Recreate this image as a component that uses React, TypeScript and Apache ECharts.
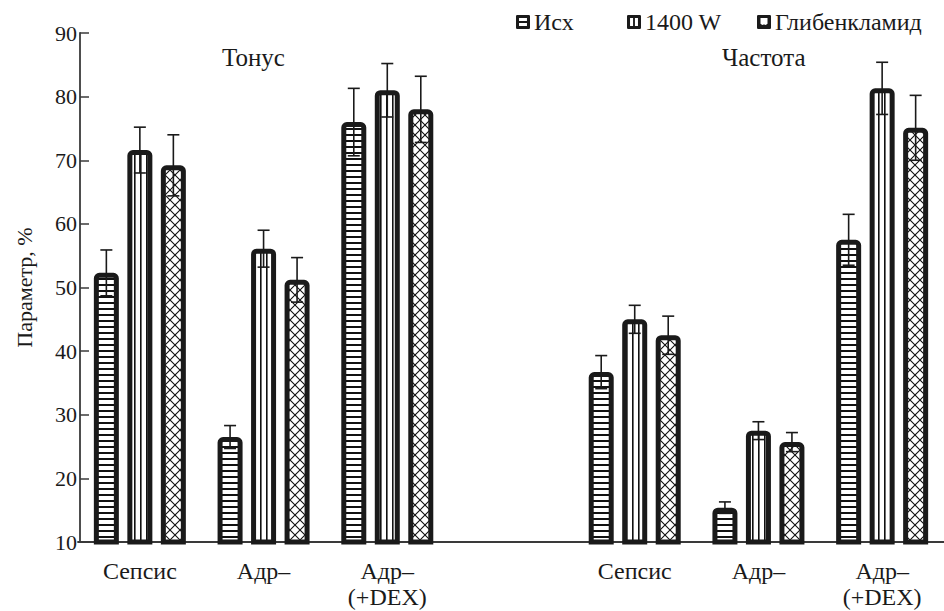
import React, { useEffect, useRef } from "react";
import * as echarts from "echarts";

const categories = ["Сепсис", "Адр–", "Адр–\n(+DEX)", "", "Сепсис", "Адр–", "Адр–\n(+DEX)"];
const seriesNames = ["Исх", "1400 W", "Глибенкламид"];
const valuesIsh = [52.3, 26.5, 76.0, null, 36.7, 15.4, 57.5];
const valuesW1400 = [71.6, 56.1, 81.0, null, 45.0, 27.5, 81.3];
const valuesGlib = [69.2, 51.2, 78.0, null, 42.5, 25.7, 75.1];
const errIsh = [3.6, 1.8, 5.3, null, 2.6, 0.9, 4.0];
const errW1400 = [3.6, 2.9, 4.2, null, 2.2, 1.4, 4.1];
const errGlib = [4.8, 3.5, 5.2, null, 3.0, 1.5, 5.1];
const groupLabels = ["Тонус", "Частота"];
const yTicks = { min: 10, max: 90, interval: 10 };

const FONT = "'Liberation Serif', 'DejaVu Serif', serif";
const BAR_W = 25;
const BAR_GAP = 0.34;
const STEP = BAR_W * (1 + BAR_GAP);

function makePattern(kind: string) {
  const c = document.createElement("canvas");
  let w = 6, h = 6;
  if (kind === "h") { w = 4; h = 6; }
  if (kind === "v") { w = 6; h = 4; }
  if (kind === "x") { w = 10; h = 10; }
  c.width = w; c.height = h;
  const ctx = c.getContext("2d")!;
  ctx.fillStyle = "#fff";
  ctx.fillRect(0, 0, w, h);
  ctx.fillStyle = "#111";
  ctx.strokeStyle = "#111";
  if (kind === "h") ctx.fillRect(0, 2, w, 2);
  if (kind === "v") ctx.fillRect(2, 0, 1.6, h);
  if (kind === "x") {
    ctx.lineWidth = 1.1;
    ctx.beginPath();
    ctx.moveTo(0, 0); ctx.lineTo(w, h);
    ctx.moveTo(w, 0); ctx.lineTo(0, h);
    ctx.stroke();
  }
  return { image: c, repeat: "repeat" };
}

const icons = [
  "path://M1,0H11Q12,0 12,1V11Q12,12 11,12H1Q0,12 0,11V1Q0,0 1,0Z M2.6,2.6V5.2H9.4V2.6Z M2.6,6.8V9.4H9.4V6.8Z",
  "path://M1,0H11Q12,0 12,1V11Q12,12 11,12H1Q0,12 0,11V1Q0,0 1,0Z M2.6,2.6V9.4H5.2V2.6Z M6.8,2.6V9.4H9.4V2.6Z",
  "path://M1,0H11Q12,0 12,1V11Q12,12 11,12H1Q0,12 0,11V1Q0,0 1,0Z M3,2.6V7.5Q4.5,9.2 6,8Q7.5,9.2 9,7.5V2.6Z",
];

export default function App() {
  const ref = useRef<HTMLDivElement>(null);
  useEffect(() => {
    document.body.style.margin = "0";
    const chart = echarts.init(ref.current!, null, { renderer: "svg" });
    const vals = [valuesIsh, valuesW1400, valuesGlib];
    const errs = [errIsh, errW1400, errGlib];
    const pats = [makePattern("h"), makePattern("v"), makePattern("x")];
    const errData: any[] = [];
    vals.forEach((arr, s) => {
      arr.forEach((v, i) => {
        if (v != null) errData.push([i, v, errs[s][i], s]);
      });
    });
    const legendLefts = [516, 627, 757];
    chart.setOption({
      animation: false,
      backgroundColor: "#fff",
      textStyle: { fontFamily: FONT },
      grid: { left: 78, right: -13, top: 33, bottom: 69, containLabel: false },
      legend: seriesNames.map((n, i) => ({
        data: [{ name: n, icon: icons[i], itemStyle: { color: "#1a1a1a", borderWidth: 0 } }],
        left: legendLefts[i],
        top: 10,
        padding: 0,
        itemWidth: 14,
        itemHeight: 14,
        itemGap: 4,
        selectedMode: false,
        textStyle: { fontFamily: FONT, fontSize: 24, color: "#1a1a1a", padding: [0, 0, 0, -1] },
      })),
      xAxis: {
        type: "category",
        data: categories,
        axisLine: { show: true, lineStyle: { color: "#3a3a3a", width: 1.8 } },
        axisTick: { show: false },
        axisLabel: {
          interval: 0,
          fontFamily: FONT,
          fontSize: 24,
          lineHeight: 26,
          margin: 16,
          color: "#1a1a1a",
        },
      },
      yAxis: {
        type: "value",
        min: yTicks.min,
        max: yTicks.max,
        interval: yTicks.interval,
        offset: -2,
        name: "Параметр, %",
        nameLocation: "middle",
        nameGap: 45,
        nameTextStyle: { fontFamily: FONT, fontSize: 22, color: "#1a1a1a" },
        axisLine: { show: true, lineStyle: { color: "#3a3a3a", width: 1.8 } },
        axisTick: { show: true, inside: true, length: 9, lineStyle: { color: "#3a3a3a", width: 1.5 } },
        axisLabel: { fontFamily: FONT, fontSize: 22, color: "#1a1a1a", margin: 3 },
        splitLine: { show: false },
      },
      graphic: [
        { type: "text", left: 222, top: 45, style: { text: groupLabels[0], font: `25px ${FONT}`, fill: "#1a1a1a" } },
        { type: "text", left: 722, top: 45, style: { text: groupLabels[1], font: `25px ${FONT}`, fill: "#1a1a1a" } },
      ],
      series: [
        ...vals.map((arr, s) => ({
          type: "bar",
          name: seriesNames[s],
          data: arr.map((v) => (v == null ? "-" : v)),
          barWidth: BAR_W,
          barGap: `${BAR_GAP * 100}%`,
          itemStyle: {
            color: pats[s],
            borderColor: "#1a1a1a",
            borderWidth: 5,
            borderRadius: [3, 3, 0, 0],
          },
          emphasis: { disabled: true },
          z: 2,
        })),
        {
          type: "custom",
          name: "err",
          data: errData,
          encode: { x: 0, y: 1 },
          z: 5,
          silent: true,
          renderItem: (params: any, api: any) => {
            const x = api.value(0);
            const v = api.value(1);
            const e = api.value(2);
            const s = api.value(3);
            const top = api.coord([x, v + e]);
            const bot = api.coord([x, v - e]);
            const cx = top[0] + (s - 1) * STEP;
            const st = { stroke: "#1a1a1a", lineWidth: 1.6 };
            return {
              type: "group",
              children: [
                { type: "line", shape: { x1: cx, y1: top[1], x2: cx, y2: bot[1] }, style: st },
                { type: "line", shape: { x1: cx - 6, y1: top[1], x2: cx + 6, y2: top[1] }, style: st },
                { type: "line", shape: { x1: cx - 6, y1: bot[1], x2: cx + 6, y2: bot[1] }, style: st },
              ],
            };
          },
        },
      ],
    });
    return () => chart.dispose();
  }, []);
  return <div ref={ref} style={{ width: 944, height: 611 }} />;
}
